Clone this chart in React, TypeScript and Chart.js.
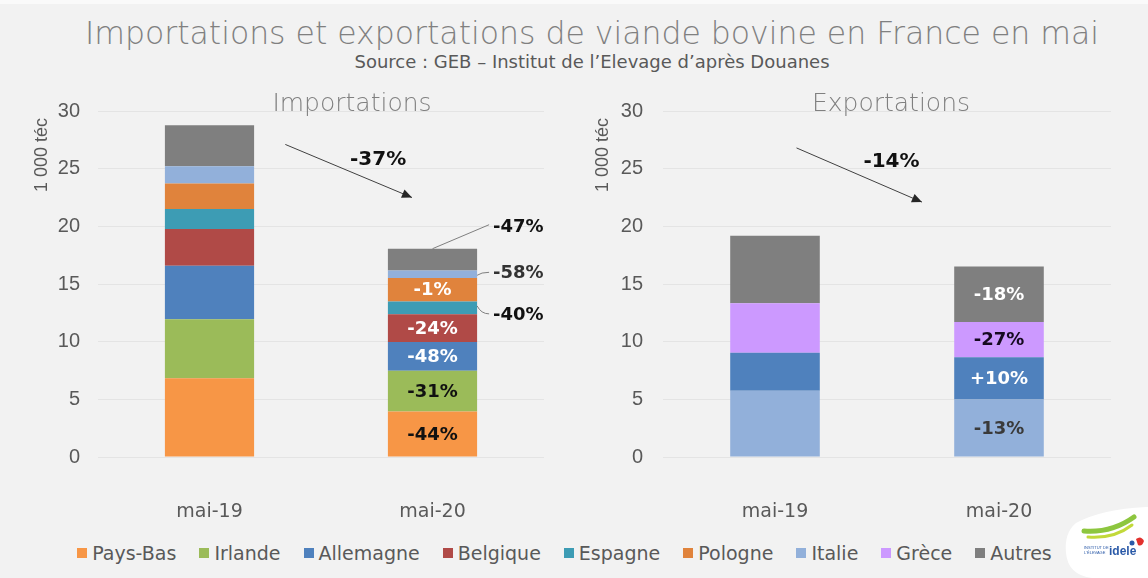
import React, { useEffect, useRef } from "react";
import { Chart, registerables } from "chart.js";

Chart.register(...registerables);

// ---------- data ----------
const periods = ["mai-19", "mai-20"];

const importCountries = ["Pays-Bas", "Irlande", "Allemagne", "Belgique", "Espagne", "Pologne", "Italie", "Autres"];
const importMai19 = [6.82, 5.13, 4.63, 3.19, 1.74, 2.2, 1.51, 3.54];
const importMai20 = [3.95, 3.53, 2.49, 2.41, 1.1, 2.03, 0.66, 1.89];
const importChange = ["-44%", "-31%", "-48%", "-24%", "-40%", "-1%", "-58%", "-47%"];
const importLabelColors = ["#111111", "#111111", "#ffffff", "#ffffff", "#111111", "#ffffff", "#333333", "#111111"];
const importLabelPlace = ["in", "in", "in", "in", "out", "in", "out", "top"];
const importTotalChange = "-37%";

const exportCountries = ["Italie", "Allemagne", "Grèce", "Autres"];
const exportMai19 = [5.74, 3.3, 4.3, 5.85];
const exportMai20 = [4.99, 3.65, 3.07, 4.81];
const exportChange = ["-13%", "+10%", "-27%", "-18%"];
const exportLabelColors = ["#3a3a3a", "#ffffff", "#150a20", "#ffffff"];
const exportLabelPlace = ["in", "in", "in", "in"];
const exportTotalChange = "-14%";

const legendNames = ["Pays-Bas", "Irlande", "Allemagne", "Belgique", "Espagne", "Pologne", "Italie", "Grèce", "Autres"];
const colorMap: Record<string, string> = {
  "Pays-Bas": "#f79646",
  Irlande: "#9bbb59",
  Allemagne: "#4f81bd",
  Belgique: "#b04a47",
  Espagne: "#3d9cb4",
  Pologne: "#e0833c",
  Italie: "#92b0da",
  "Grèce": "#cc99ff",
  Autres: "#7f7f7f",
};

const yTicks = [0, 5, 10, 15, 20, 25, 30];
const yUnit = "1 000 téc";

const TEXT_GRAY = "#595959";
const LABEL_FONT = "'DejaVu Sans', sans-serif";
const TICK_FONT = "'Liberation Sans', Arial, sans-serif";

type ArrowSpec = { x0: number; y0: number; x1: number; y1: number; lx: number; ly: number; text: string };

function makeAnnotPlugin(changes: string[], colors: string[], places: string[], arrow: ArrowSpec, unitX: number) {
  return {
    id: "annot",
    afterDatasetsDraw(chart: any) {
      const ctx = chart.ctx as CanvasRenderingContext2D;
      const area = chart.chartArea;
      const ys = chart.scales.y;
      ctx.save();
      // y-axis unit title
      ctx.save();
      ctx.translate(unitX, area.top + 7);
      ctx.rotate(-Math.PI / 2);
      ctx.font = `18px ${TICK_FONT}`;
      ctx.fillStyle = TEXT_GRAY;
      ctx.textAlign = "right";
      ctx.textBaseline = "middle";
      ctx.fillText(yUnit, 0, 0);
      ctx.restore();

      ctx.font = `bold 18px ${LABEL_FONT}`;
      ctx.textBaseline = "middle";
      chart.data.datasets.forEach((_ds: any, i: number) => {
        const el = chart.getDatasetMeta(i).data[1];
        if (!el) return;
        const p = el.getProps(["x", "y", "base", "width"], true);
        const yc = (p.y + p.base) / 2;
        const right = p.x + p.width / 2;
        const place = places[i];
        ctx.fillStyle = colors[i];
        if (place === "in") {
          ctx.textAlign = "center";
          ctx.fillText(changes[i], p.x, yc + 1);
        } else if (place === "out") {
          const dy = i === 4 ? 6 : -2;
          ctx.strokeStyle = "#7f7f7f";
          ctx.lineWidth = 1;
          ctx.beginPath();
          ctx.moveTo(right, yc - (dy > 0 ? 2 : -1));
          ctx.quadraticCurveTo(right + 4, yc + dy, right + 12, yc + dy);
          ctx.stroke();
          ctx.textAlign = "left";
          ctx.fillText(changes[i], right + 16, yc + dy + 1);
        } else if (place === "top") {
          ctx.strokeStyle = "#7f7f7f";
          ctx.lineWidth = 1;
          ctx.beginPath();
          ctx.moveTo(p.x, p.y);
          ctx.lineTo(right + 12, p.y - 24);
          ctx.stroke();
          ctx.textAlign = "left";
          ctx.fillText(changes[i], right + 16, p.y - 21);
        }
      });
      // total change arrow
      const ax0 = area.left + arrow.x0 * (area.right - area.left);
      const ax1 = area.left + arrow.x1 * (area.right - area.left);
      const ay0 = ys.getPixelForValue(arrow.y0);
      const ay1 = ys.getPixelForValue(arrow.y1);
      ctx.strokeStyle = "#404040";
      ctx.fillStyle = "#262626";
      ctx.lineWidth = 1;
      ctx.beginPath();
      ctx.moveTo(ax0, ay0);
      ctx.lineTo(ax1, ay1);
      ctx.stroke();
      const ang = Math.atan2(ay1 - ay0, ax1 - ax0);
      const L = 10, W = 4.5;
      ctx.beginPath();
      ctx.moveTo(ax1, ay1);
      ctx.lineTo(ax1 - L * Math.cos(ang) + W * Math.sin(ang), ay1 - L * Math.sin(ang) - W * Math.cos(ang));
      ctx.lineTo(ax1 - L * Math.cos(ang) - W * Math.sin(ang), ay1 - L * Math.sin(ang) + W * Math.cos(ang));
      ctx.closePath();
      ctx.fill();
      ctx.font = `bold 20px ${LABEL_FONT}`;
      ctx.fillStyle = "#111111";
      ctx.textAlign = "center";
      ctx.fillText(arrow.text, area.left + arrow.lx * (area.right - area.left), ys.getPixelForValue(arrow.ly));
      ctx.restore();
    },
  };
}

function makeConfig(
  countries: string[],
  v19: number[],
  v20: number[],
  plugin: any,
  yAxisWidth: number,
  tickPad: number,
  rightPad: number,
  canvasH: number
): any {
  return {
    type: "bar",
    data: {
      labels: periods,
      datasets: countries.map((c, i) => ({
        label: c,
        data: [v19[i], v20[i]],
        backgroundColor: colorMap[c],
        borderWidth: 0,
        barPercentage: 0.4,
        categoryPercentage: 1,
      })),
    },
    options: {
      responsive: false,
      animation: false,
      events: [],
      layout: { padding: { top: 111, right: rightPad, left: 0, bottom: 0 } },
      plugins: { legend: { display: false }, tooltip: { enabled: false }, title: { display: false } },
      scales: {
        x: {
          stacked: true,
          grid: { display: false },
          border: { display: false },
          ticks: { color: TEXT_GRAY, font: { family: LABEL_FONT, size: 19 }, padding: 36, maxRotation: 0 },
          afterFit: (s: any) => {
            s.height = canvasH - 457;
          },
        },
        y: {
          stacked: true,
          min: 0,
          max: 30,
          afterBuildTicks: (s: any) => {
            s.ticks = yTicks.map((v) => ({ value: v }));
          },
          grid: { color: "#e4e4e4", drawTicks: false, lineWidth: 1 },
          border: { display: false },
          ticks: { color: TEXT_GRAY, font: { family: TICK_FONT, size: 20 }, padding: tickPad },
          afterFit: (s: any) => {
            s.width = yAxisWidth;
          },
        },
      },
    },
    plugins: [plugin],
  };
}

const CANVAS_H = 540;

export default function App() {
  const leftRef = useRef<HTMLCanvasElement>(null);
  const rightRef = useRef<HTMLCanvasElement>(null);

  useEffect(() => {
    document.body.style.margin = "0";
    document.body.style.background = "#f2f2f2";
    const p1 = makeAnnotPlugin(
      importChange, importLabelColors, importLabelPlace,
      { x0: 0.42, y0: 27.1, x1: 0.704, y1: 22.5, lx: 0.628, ly: 25.8, text: importTotalChange },
      42
    );
    const p2 = makeAnnotPlugin(
      exportChange, exportLabelColors, exportLabelPlace,
      { x0: 0.298, y0: 26.8, x1: 0.578, y1: 22.1, lx: 0.51, ly: 25.6, text: exportTotalChange },
      23.5
    );
    const c1 = new Chart(leftRef.current!, makeConfig(importCountries, importMai19, importMai20, p1, 98, 18, 36, CANVAS_H));
    const c2 = new Chart(rightRef.current!, makeConfig(exportCountries, exportMai19, exportMai20, p2, 83, 20, 37, CANVAS_H));
    return () => {
      c1.destroy();
      c2.destroy();
    };
  }, []);

  const abs = (extra: React.CSSProperties): React.CSSProperties => ({ position: "absolute", ...extra });

  return (
    <div
      style={{
        position: "relative",
        width: 1148,
        height: 578,
        background: "#f2f2f2",
        overflow: "hidden",
        fontFamily: LABEL_FONT,
      }}
    >
      <div style={abs({ left: 0, top: 0, width: 1148, height: 4, background: "#fafafa" })} />
      <div
        style={abs({
          left: 0,
          width: 1184,
          top: 13,
          textAlign: "center",
          fontSize: 31.5,
          lineHeight: "40px",
          color: "#808080",
          fontWeight: 200,
          whiteSpace: "nowrap",
        })}
      >
        Importations et exportations de viande bovine en France en mai
      </div>
      <div
        style={abs({
          left: 0,
          width: 1184,
          top: 51,
          textAlign: "center",
          fontSize: 18,
          lineHeight: "22px",
          color: TEXT_GRAY,
          whiteSpace: "nowrap",
        })}
      >
        Source : GEB – Institut de l’Elevage d’après Douanes
      </div>
      <canvas ref={leftRef} width={580} height={CANVAS_H} style={abs({ left: 0, top: 0 })} />
      <canvas ref={rightRef} width={568} height={CANVAS_H} style={abs({ left: 580, top: 0 })} />
      <div
        style={abs({ left: 252, width: 200, top: 88, textAlign: "center", fontSize: 25, lineHeight: "30px", color: "#808080", fontWeight: 200 })}
      >
        Importations
      </div>
      <div
        style={abs({ left: 791, width: 200, top: 88, textAlign: "center", fontSize: 25, lineHeight: "30px", color: "#808080", fontWeight: 200 })}
      >
        Exportations
      </div>
      <div
        style={abs({
          left: 0,
          width: 1129,
          top: 541,
          display: "flex",
          justifyContent: "center",
          gap: 23,
          fontSize: 19,
          lineHeight: "24px",
          color: TEXT_GRAY,
          whiteSpace: "nowrap",
        })}
      >
        {legendNames.map((n) => (
          <div key={n} style={{ display: "flex", alignItems: "center" }}>
            <span style={{ display: "inline-block", width: 10, height: 10, background: colorMap[n], marginRight: 5 }} />
            <span>{n}</span>
          </div>
        ))}
      </div>
      <svg style={abs({ left: 1062, top: 503 })} width={86} height={75} viewBox="0 0 86 75">
        <path d="M14 20 Q40 6 84 4 L86 4 L86 75 L30 75 Q6 72 4 50 Q2 30 14 20 Z" fill="#ffffff" />
        <path d="M22 28 Q50 30 72 14" stroke="#8dc63f" strokeWidth={5} fill="none" strokeLinecap="round" />
        <path d="M26 34 Q52 36 70 22" stroke="#c2d93a" strokeWidth={3} fill="none" strokeLinecap="round" />
        <path d="M74 36 q5 -4 8 2 q-2 6 -6 4" fill="#e2312d" />
        <circle cx={70} cy={40} r={2.5} fill="#2b5aa8" />
        <text x={22} y={46} fontSize={4} fill="#2b5aa8" fontFamily={TICK_FONT}>INSTITUT DE</text>
        <text x={22} y={51} fontSize={4} fill="#2b5aa8" fontFamily={TICK_FONT}>L'ÉLEVAGE</text>
        <text x={47} y={52} fontSize={12} fontWeight="bold" fill="#2b5aa8" fontFamily={TICK_FONT}>idele</text>
      </svg>
    </div>
  );
}
